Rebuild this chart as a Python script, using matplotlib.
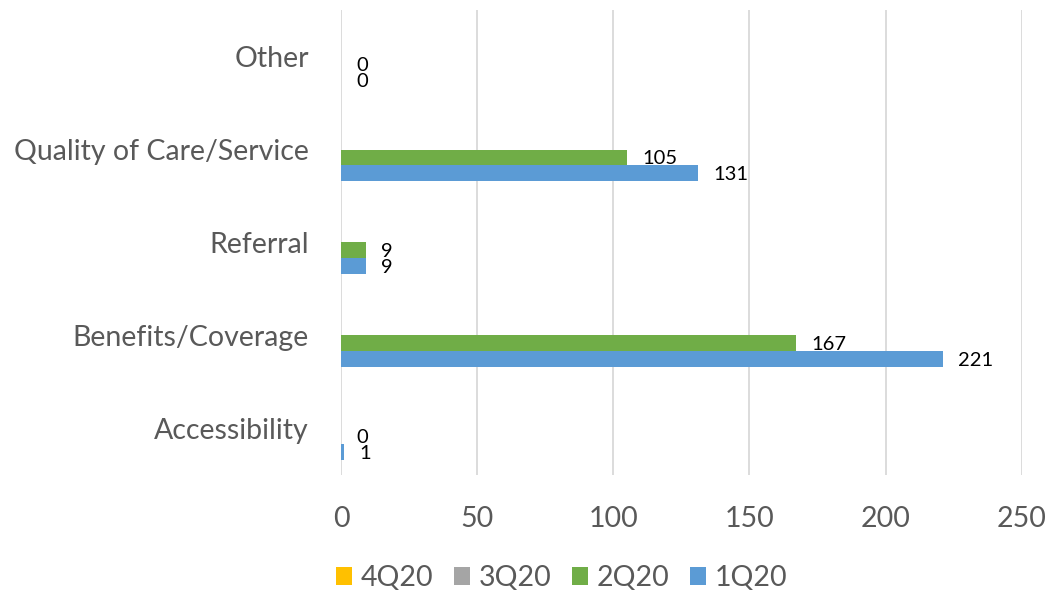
import numpy as np
import matplotlib
matplotlib.use("Agg")
import matplotlib.pyplot as plt

plt.rcParams['font.family'] = ['Lato', 'DejaVu Sans']

# categories bottom -> top (as Excel draws them)
categories = ["Accessibility", "Benefits/Coverage", "Referral", "Quality of Care/Service", "Other"]
series_names = ["1Q20", "2Q20", "3Q20", "4Q20"]
q1 = [1, 221, 9, 131, 0]
q2 = [0, 167, 9, 105, 0]
q3 = [0, 0, 0, 0, 0]
q4 = [0, 0, 0, 0, 0]
colors = ["#5B9BD5", "#70AD47", "#A5A5A5", "#FFC000"]
labelled = [True, True, False, False]

fig = plt.figure(figsize=(10.48, 5.9), dpi=100)
ax = fig.add_axes([0.3254, 0.195, 0.975 - 0.3254, 0.983 - 0.195])

y = np.arange(len(categories))
h = 0.172
handles = []
for k, (vals, name, col, lab) in enumerate(zip([q1, q2, q3, q4], series_names, colors, labelled)):
    off = (k - 1.5) * h
    bars = ax.barh(y + off, vals, height=h, color=col, label=name, zorder=3)
    handles.append(bars)
    if lab:
        for yi, v in zip(y + off, vals):
            ax.annotate(str(v), (v, yi), xytext=(11, -1), textcoords="offset points",
                        ha="left", va="center", fontsize=14.5, color="black")

ax.set_xlim(0, 250)
ax.set_ylim(-0.5, len(categories) - 0.5)
ax.set_xticks(np.arange(0, 251, 50))
ax.set_yticks(y)
ax.set_yticklabels(categories)
ax.xaxis.grid(True, color="#D9D9D9", linewidth=1.3, zorder=0)
ax.tick_params(axis="both", length=0, labelsize=20.5, colors="#595959")
ax.tick_params(axis="x", pad=22)
ax.tick_params(axis="y", pad=23)
for s in ax.spines.values():
    s.set_visible(False)

leg = fig.legend(handles[::-1], series_names[::-1], loc="center", bbox_to_anchor=(0.536, 0.02),
                 ncol=4, frameon=False, fontsize=20.5, handlelength=0.56, handleheight=0.56,
                 columnspacing=0.75, handletextpad=0.28)
for t in leg.get_texts():
    t.set_color("#595959")

fig.savefig("out.png", dpi=100)
